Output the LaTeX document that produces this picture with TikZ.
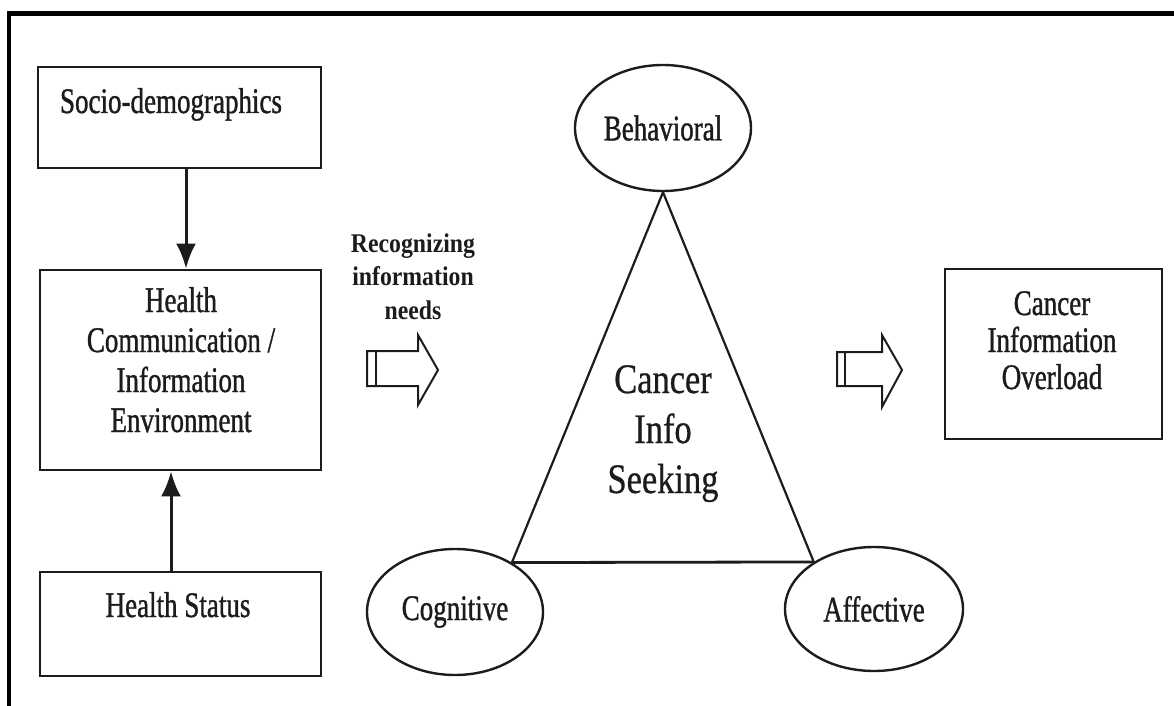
\documentclass[tikz,border=0pt]{standalone}
\usepackage{fontspec}
\setmainfont{Liberation Serif}
% narrow Times-like faces for the labels
\newfontfamily\boxfont[FakeStretch=0.75,FakeBold=1]{Liberation Serif}
\newfontfamily\bigfont[FakeStretch=0.82,FakeBold=0.6]{Liberation Serif}
\newfontfamily\notefont[FakeStretch=0.88]{Liberation Serif}
\usetikzlibrary{arrows.meta,shapes.geometric}

\definecolor{ink}{HTML}{1C1C1C}

\begin{document}
\begin{tikzpicture}[x=0.5pt,y=-0.5pt,
  box/.style={draw=ink,line width=1.4pt,rectangle,inner sep=0pt},
  oval/.style={draw=ink,line width=1.2pt,ellipse,inner sep=0pt,
    minimum width=88pt,minimum height=63pt,
    font=\boxfont\fontsize{18}{20}\selectfont,text=ink},
  lbl/.style={font=\boxfont\fontsize{18}{20}\selectfont,align=center,
    anchor=base,inner sep=0pt,text=ink},
  flow/.style={draw=ink,line width=1.5pt,-{Latex[length=12.5pt,width=10pt]}},
  side/.style={draw=ink,line width=1.1pt,line join=round},
  blockarrow/.style={draw=ink,line width=1pt,fill=white,line join=miter},
  frame/.style={draw=black,line width=2.3pt,line join=miter}
]
\useasboundingbox (0,0) rectangle (1174,706);

% outer frame (top and left edges)
\draw[frame] (9,706) -- (9,13.5) -- (1174,13.5);

% left column boxes
\node[box,minimum width=141.5pt,minimum height=50.5pt] (socio) at (179.5,117.5) {};
\node[box,minimum width=140.5pt,minimum height=100pt] (hce) at (180.5,370) {};
\node[box,minimum width=140.5pt,minimum height=52pt] (status) at (180.5,624) {};

% labels are anchored at the baseline of their last line
\node[lbl] (socioT) at (171,113) {Socio-demographics};
\node[lbl] (hceT) at (181,432) {Health\\Communication /\\Information\\Environment};
\node[lbl] (statusT) at (178,617) {Health Status};

% vertical connectors
\coordinate (downx) at (186,0);
\coordinate (upx) at (171,0);
\draw[flow] (socio.south -| downx) -- (hce.north -| downx);
\draw[flow] (status.north -| upx) -- (hce.south -| upx);

% caption above the first block arrow
\node[font=\notefont\bfseries\fontsize{13.5}{16.5}\selectfont,align=center,
  anchor=base,inner sep=0pt,text=ink] (need) at (413,319)
  {Recognizing\\information\\needs};

% hollow block arrows
\draw[blockarrow] (367,351) -- (418,351) -- (418,335) -- (438,370)
  -- (418,405) -- (418,386) -- (367,386) -- cycle;
\draw[ink,line width=1pt] (376,351) -- (376,386);
\draw[blockarrow] (837,352) -- (882,352) -- (882,335) -- (902,370)
  -- (882,407) -- (882,386) -- (837,386) -- cycle;
\draw[ink,line width=1pt] (845,352) -- (845,386);

% seeking triangle and its three dimensions
\node[oval] (beh) at (663,128) {Behavioral};
\node[oval] (cog) at (455,612) {Cognitive};
\node[oval,minimum width=89pt,minimum height=62pt] (aff) at (874,609) {Affective};
\draw[side] (beh.south) -- (cog.41);
\draw[side] (beh.south) -- (aff.142);
\draw[side,line width=1.4pt] (cog.41) -- (aff.142);

\node[font=\bigfont\fontsize{21}{25}\selectfont,align=center,anchor=base,
  inner sep=0pt,text=ink] (seek) at (663,493) {Cancer\\Info\\Seeking};

% outcome box
\node[box,minimum width=108.5pt,minimum height=85pt] (over) at (1053.5,354) {};
\node[lbl,font=\boxfont\fontsize{18}{18.5}\selectfont] (overT) at (1052,389)
  {Cancer\\Information\\Overload};
\end{tikzpicture}
\end{document}
